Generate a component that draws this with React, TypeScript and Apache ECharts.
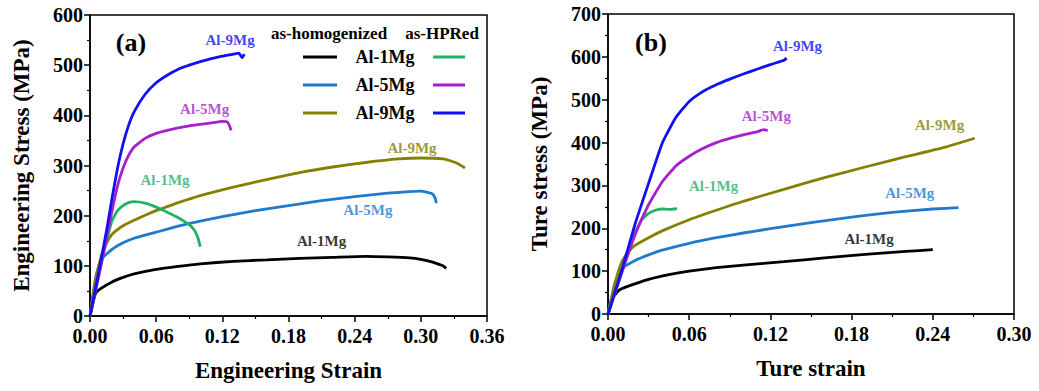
import React, { useEffect, useRef } from "react";
import * as echarts from "echarts";

const FONT = '"Liberation Serif", "Times New Roman", serif';

// ---------- data (a) engineering ----------
const engHom1Mg = [[0,0],[0.005,45],[0.01,55],[0.02,68],[0.03,77],[0.04,84],[0.06,93],[0.08,99],[0.1,104],[0.13,109],[0.16,112],[0.19,115],[0.22,117],[0.25,119],[0.27,118],[0.29,116],[0.3,113],[0.31,108],[0.32,100],[0.323,95]];
const engHom5Mg = [[0,0],[0.005,75],[0.01,112],[0.02,133],[0.03,146],[0.04,155],[0.06,167],[0.08,179],[0.1,189],[0.12,198],[0.15,210],[0.18,220],[0.21,230],[0.24,238],[0.27,245],[0.29,248],[0.3,249],[0.31,244],[0.313,235],[0.314,225]];
const engHom9Mg = [[0,0],[0.005,70],[0.01,118],[0.015,145],[0.02,163],[0.03,180],[0.04,191],[0.05,201],[0.06,210],[0.07,218],[0.08,226],[0.1,240],[0.13,257],[0.16,272],[0.19,286],[0.22,297],[0.25,306],[0.28,313],[0.3,315],[0.32,313],[0.33,307],[0.335,302],[0.34,295]];
const engHp1Mg = [[0,0],[0.01,105],[0.02,190],[0.025,210],[0.03,220],[0.035,226],[0.04,228],[0.05,225],[0.06,217],[0.07,207],[0.08,196],[0.09,182],[0.095,170],[0.098,155],[0.1,138]];
const engHp5Mg = [[0,0],[0.005,50],[0.01,100],[0.015,155],[0.02,210],[0.025,260],[0.03,295],[0.035,320],[0.04,337],[0.05,354],[0.06,364],[0.07,370],[0.08,375],[0.09,379],[0.1,382],[0.11,385],[0.12,388],[0.125,386],[0.128,370]];
const engHp9Mg = [[0,0],[0.005,55],[0.01,112],[0.015,170],[0.02,235],[0.025,295],[0.03,343],[0.035,380],[0.04,407],[0.05,442],[0.06,465],[0.07,480],[0.08,492],[0.09,500],[0.1,507],[0.11,513],[0.12,518],[0.13,522],[0.135,524],[0.138,515],[0.14,522]];

// ---------- data (b) true ----------
const trueHom1Mg = [[0,0],[0.004,40],[0.008,55],[0.015,65],[0.03,81],[0.045,92],[0.06,100],[0.08,108],[0.1,114],[0.13,122],[0.16,131],[0.19,139],[0.22,146],[0.24,150]];
const trueHom5Mg = [[0,0],[0.005,70],[0.01,105],[0.02,125],[0.03,138],[0.04,149],[0.06,165],[0.08,178],[0.1,189],[0.12,199],[0.15,213],[0.18,226],[0.21,237],[0.24,245],[0.259,248]];
const trueHom9Mg = [[0,0],[0.005,70],[0.01,120],[0.015,145],[0.02,160],[0.03,178],[0.04,194],[0.06,220],[0.08,242],[0.1,263],[0.13,291],[0.16,318],[0.19,343],[0.22,367],[0.25,390],[0.271,410]];
const trueHp1Mg = [[0,0],[0.01,95],[0.02,190],[0.025,220],[0.03,235],[0.035,242],[0.04,245],[0.045,244],[0.051,246]];
const trueHp5Mg = [[0,0],[0.01,95],[0.02,185],[0.03,255],[0.04,308],[0.05,345],[0.06,368],[0.07,386],[0.08,400],[0.09,410],[0.1,418],[0.11,425],[0.115,430],[0.118,428]];
const trueHp9Mg = [[0,0],[0.005,50],[0.01,100],[0.02,210],[0.03,305],[0.04,398],[0.05,458],[0.06,496],[0.07,519],[0.08,535],[0.09,548],[0.1,560],[0.11,571],[0.12,582],[0.13,592],[0.132,597]];

// ---------- annotations (data coords) ----------
const annotA = [
  { key: "hp9", text: "Al-9Mg", x: 0.127, y: 550 },
  { key: "hp5", text: "Al-5Mg", x: 0.104, y: 413 },
  { key: "hp1", text: "Al-1Mg", x: 0.068, y: 271 },
  { key: "hom9", text: "Al-9Mg", x: 0.292, y: 335 },
  { key: "hom5", text: "Al-5Mg", x: 0.252, y: 211 },
  { key: "hom1", text: "Al-1Mg", x: 0.21, y: 150 },
];
const annotB = [
  { key: "hp9", text: "Al-9Mg", x: 0.14, y: 625 },
  { key: "hp5", text: "Al-5Mg", x: 0.117, y: 462 },
  { key: "hp1", text: "Al-1Mg", x: 0.078, y: 299 },
  { key: "hom9", text: "Al-9Mg", x: 0.245, y: 441 },
  { key: "hom5", text: "Al-5Mg", x: 0.223, y: 283 },
  { key: "hom1", text: "Al-1Mg", x: 0.193, y: 175 },
];

const legendRows = ["Al-1Mg", "Al-5Mg", "Al-9Mg"];
const legendHeaders = ["as-homogenized", "as-HPRed"];

const COLORS: Record<string, string> = {
  hom1: "#000000",
  hom5: "#1f7acb",
  hom9: "#858000",
  hp1: "#22b266",
  hp5: "#a81fd0",
  hp9: "#1010f0",
};

export default function App() {
  const ref = useRef<HTMLDivElement>(null);
  useEffect(() => {
    if (!ref.current) return;
    const chart = echarts.init(ref.current, null, { renderer: "svg" });

    const mkLine = (data: number[][], key: string, idx: number) => ({
      type: "line",
      xAxisIndex: idx,
      yAxisIndex: idx,
      data,
      symbol: "none",
      smooth: 0.15,
      lineStyle: { color: COLORS[key], width: 2.8 },
      silent: true,
      z: 3,
    });
    const mkAnnot = (arr: any[], idx: number) => ({
      type: "scatter",
      xAxisIndex: idx,
      yAxisIndex: idx,
      symbolSize: 0,
      silent: true,
      data: arr.map((a) => ({
        value: [a.x, a.y],
        label: {
          show: true,
          position: "inside",
          formatter: a.text,
          color: COLORS[a.key],
          fontFamily: FONT,
          fontWeight: "bold",
          fontSize: 15,
        },
      })),
      z: 5,
    });

    const xAxisBase = (idx: number, max: number, name: string) => ({
      type: "value",
      gridIndex: idx,
      min: 0,
      max,
      interval: 0.06,
      name,
      nameLocation: "middle",
      nameGap: 43,
      nameTextStyle: { fontFamily: FONT, fontWeight: "bold", fontSize: 23, color: "#000" },
      axisLine: { show: true, onZero: false, lineStyle: { color: "#000", width: 1.5 } },
      axisTick: { show: true, length: 6, lineStyle: { color: "#000", width: 1.5 } },
      minorTick: { show: true, splitNumber: 2, length: 3, lineStyle: { color: "#000", width: 1.2 } },
      splitLine: { show: false },
      axisLabel: {
        fontFamily: FONT,
        fontWeight: "bold",
        fontSize: 20,
        color: "#000",
        margin: 10,
        formatter: (v: number) => v.toFixed(2),
      },
    });
    const yAxisBase = (idx: number, max: number, name: string) => ({
      type: "value",
      gridIndex: idx,
      min: 0,
      max,
      interval: 100,
      name,
      nameLocation: "middle",
      nameGap: 57,
      nameTextStyle: { fontFamily: FONT, fontWeight: "bold", fontSize: 23, color: "#000" },
      axisLine: { show: true, lineStyle: { color: "#000", width: 1.5 } },
      axisTick: { show: true, length: 6, lineStyle: { color: "#000", width: 1.5 } },
      minorTick: { show: true, splitNumber: 2, length: 3, lineStyle: { color: "#000", width: 1.2 } },
      splitLine: { show: false },
      axisLabel: {
        fontFamily: FONT,
        fontWeight: "bold",
        fontSize: 20,
        color: "#000",
        margin: 7,
      },
    });

    const legendText = (x: number, y: number, t: string, size = 17) => ({
      type: "text",
      x,
      y,
      style: {
        text: t,
        fontFamily: FONT,
        fontWeight: "bold",
        fontSize: size,
        fill: "#000",
        textAlign: "center",
        textVerticalAlign: "middle",
      },
    });
    const legendLine = (x1: number, x2: number, y: number, key: string) => ({
      type: "line",
      shape: { x1, y1: y, x2, y2: y },
      style: { stroke: COLORS[key], lineWidth: 3 },
    });
    const rowY = [57, 85, 113];
    const homKeys = ["hom1", "hom5", "hom9"];
    const hpKeys = ["hp1", "hp5", "hp9"];
    const graphic: any[] = [
      legendText(131, 42, "(a)", 26),
      legendText(651, 42, "(b)", 26),
      legendText(329, 33, legendHeaders[0], 17),
      legendText(442, 33, legendHeaders[1], 17),
    ];
    legendRows.forEach((r, i) => {
      graphic.push(legendLine(303, 337, rowY[i], homKeys[i]));
      graphic.push(legendText(385, rowY[i], r, 18));
      graphic.push(legendLine(433, 465, rowY[i], hpKeys[i]));
    });

    const option: any = {
      animation: false,
      backgroundColor: "#fff",
      grid: [
        { left: 90, top: 15, width: 397, height: 301, show: true, borderColor: "#000", borderWidth: 1.5, backgroundColor: "transparent" },
        { left: 608, top: 14, width: 406, height: 300, show: true, borderColor: "#000", borderWidth: 1.5, backgroundColor: "transparent" },
      ],
      xAxis: [xAxisBase(0, 0.36, "Engineering Strain"), xAxisBase(1, 0.3, "Ture strain")],
      yAxis: [yAxisBase(0, 600, "Engineering Stress (MPa)"), yAxisBase(1, 700, "Ture stress (MPa)")],
      series: [
        mkLine(engHom1Mg, "hom1", 0),
        mkLine(engHom5Mg, "hom5", 0),
        mkLine(engHom9Mg, "hom9", 0),
        mkLine(engHp1Mg, "hp1", 0),
        mkLine(engHp5Mg, "hp5", 0),
        mkLine(engHp9Mg, "hp9", 0),
        mkLine(trueHom1Mg, "hom1", 1),
        mkLine(trueHom5Mg, "hom5", 1),
        mkLine(trueHom9Mg, "hom9", 1),
        mkLine(trueHp1Mg, "hp1", 1),
        mkLine(trueHp5Mg, "hp5", 1),
        mkLine(trueHp9Mg, "hp9", 1),
        mkAnnot(annotA, 0),
        mkAnnot(annotB, 1),
      ],
      graphic,
    };
    chart.setOption(option);
    return () => chart.dispose();
  }, []);

  return (
    <div
      ref={ref}
      style={{ position: "absolute", left: 0, top: 0, width: 1039, height: 391, background: "#fff" }}
    />
  );
}
